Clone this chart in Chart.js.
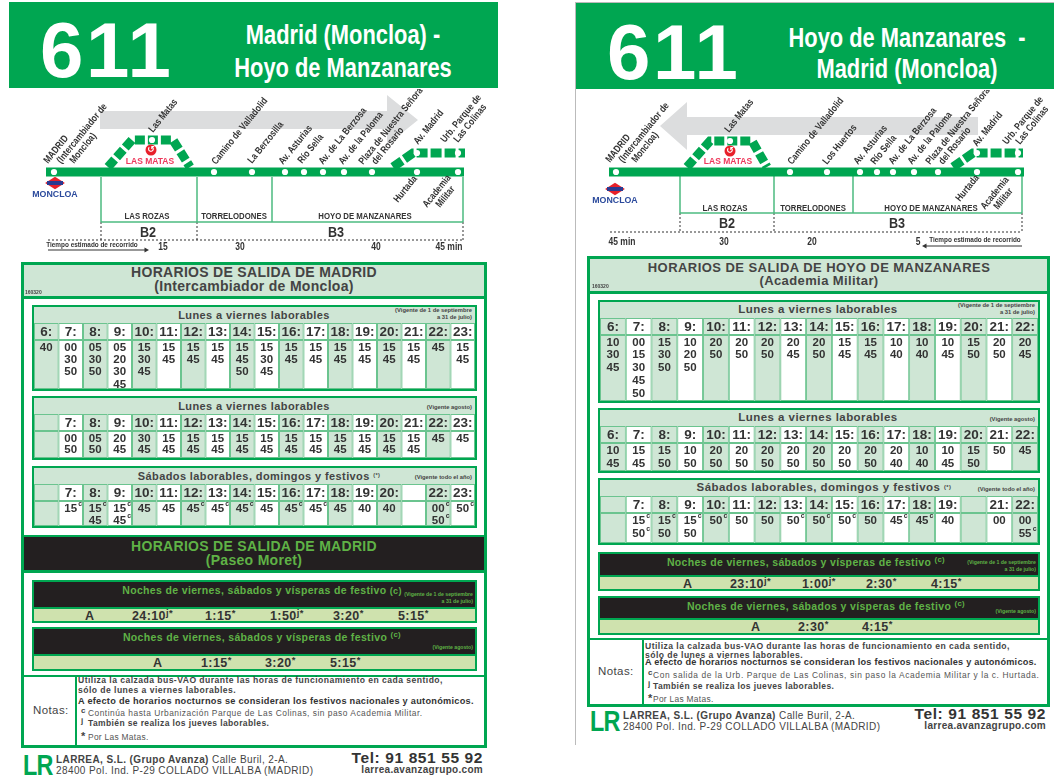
<!DOCTYPE html>
<html lang="es">
<head>
<meta charset="utf-8">
<title>611</title>
<script src="https://cdn.jsdelivr.net/npm/chart.js@4"></script>
<style>
    html, body { margin: 0; padding: 0; background: #fff; }
    body { position: relative; width: 1054px; height: 779px; overflow: hidden; font-family: "Liberation Sans", Arial, sans-serif; color: #333; }
    .box { position: absolute; box-sizing: border-box; }
    .txt { position: absolute; white-space: nowrap; line-height: 1; }
    canvas { position: absolute; display: block; }
    sup { font-size: 75%; line-height: 0; vertical-align: 0.45em; }
</style>
</head>
<body>
<script>
const GREEN = '#00A651';
const PALE = '#CFE6D5';
const LIME = '#CFE2AE';
const BLACK = '#231F20';
const TEXT_GREEN = '#5FB246';
const CELL_LINE = '#6BC48F';

// Timetable data, outbound (Madrid)
const hoursIda = ['6:', '7:', '8:', '9:', '10:', '11:', '12:', '13:', '14:', '15:', '16:', '17:', '18:', '19:', '20:', '21:', '22:', '23:'];
const minutesIdaCurso = [['40'], ['00', '30', '50'], ['05', '30', '50'], ['05', '20', '30', '45'], ['15', '30', '45'], ['15', '45'], ['15', '45'], ['15', '45'], ['15', '45', '50'], ['15', '30', '45'], ['15', '45'], ['15', '45'], ['15', '45'], ['15', '45'], ['15', '45'], ['15', '45'], ['45'], ['15', '45']];
const hoursIdaAgosto = ['', '7:', '8:', '9:', '10:', '11:', '12:', '13:', '14:', '15:', '16:', '17:', '18:', '19:', '20:', '21:', '22:', '23:'];
const minutesIdaAgosto = [[], ['00', '50'], ['05', '50'], ['20', '45'], ['30', '45'], ['15', '45'], ['15', '45'], ['15', '45'], ['15', '45'], ['15', '45'], ['15', '45'], ['15', '45'], ['15', '45'], ['15', '45'], ['15', '45'], ['15', '45'], ['45'], ['45']];
const hoursIdaFestivo = ['', '7:', '8:', '9:', '10:', '11:', '12:', '13:', '14:', '15:', '16:', '17:', '18:', '19:', '20:', '', '22:', '23:'];
const minutesIdaFestivo = [[], ['15c'], ['15c', '45'], ['15c', '45c'], ['45'], ['45'], ['45c'], ['45c'], ['45c'], ['45'], ['45c'], ['45c'], ['45'], ['40'], ['40'], [], ['00c', '50c'], ['50c']];
const nightIdaCurso = ['A', '24:10<sup>j*</sup>', '1:15<sup>*</sup>', '1:50<sup>j*</sup>', '3:20<sup>*</sup>', '5:15<sup>*</sup>'];
const nightIdaAgosto = ['A', '1:15<sup>*</sup>', '3:20<sup>*</sup>', '5:15<sup>*</sup>'];

// Timetable data, return (Hoyo de Manzanares)
const hoursVuelta = ['6:', '7:', '8:', '9:', '10:', '11:', '12:', '13:', '14:', '15:', '16:', '17:', '18:', '19:', '20:', '21:', '22:'];
const minutesVueltaCurso = [['10', '30', '45'], ['00', '15', '30', '45', '50'], ['15', '30', '50'], ['10', '20', '50'], ['20', '50'], ['20', '50'], ['20', '50'], ['20', '45'], ['20', '50'], ['15', '45'], ['15', '45'], ['10', '40'], ['10', '40'], ['10', '45'], ['15', '50'], ['20', '50'], ['20', '45']];
const minutesVueltaAgosto = [['10', '45'], ['15', '45'], ['15', '50'], ['10', '50'], ['20', '50'], ['20', '50'], ['20', '50'], ['20', '50'], ['20', '50'], ['20', '50'], ['20', '50'], ['20', '40'], ['10', '40'], ['10', '45'], ['15', '50'], ['50'], ['45']];
const hoursVueltaFestivo = ['', '7:', '8:', '9:', '10:', '11:', '12:', '13:', '14:', '15:', '16:', '17:', '18:', '19:', '', '21:', '22:'];
const minutesVueltaFestivo = [[], ['15c', '50c'], ['15c', '50'], ['15c', '50'], ['50c'], ['50'], ['50'], ['50c'], ['50c'], ['50c'], ['50'], ['45c'], ['45c'], ['40'], [], ['00'], ['00', '55c']];
const nightVueltaCurso = ['A', '23:10<sup>j*</sup>', '1:00<sup>j*</sup>', '2:30<sup>*</sup>', '4:15<sup>*</sup>'];
const nightVueltaAgosto = ['A', '2:30<sup>*</sup>', '4:15<sup>*</sup>'];

// Route diagrams in diagram units
const stopNamesIda = ['MADRID\n(Intercambiador de\nMoncloa)', 'Las Matas', 'Camino de Valladolid', 'La Berzosilla', 'Av. Asturias', 'Río Sella', 'Av. de La Berzosa', 'Av. de la Paloma', 'Plaza de Nuestra Señora\ndel Rosario', 'Av. Madrid', 'Urb. Parque de\nLas Colinas', 'Hurtada', 'Academia\nMilitar'];
const stopXIda = [54, 152, 214, 252, 285, 304, 323, 344, 372, 417, 458, 417, 458];
const stopYIda = [172, 140, 172, 172, 172, 172, 172, 172, 172, 153, 153, 172, 172];
const labelXIda = [48, 153, 216, 252, 283, 302, 323, 343, 363, 418, 445, 398, 427];
const labelYIda = [164, 133, 165, 164, 165, 164, 165, 165, 165, 145, 143, 203, 208];

const stopNamesVuelta = ['MADRID\n(Intercambiador de\nMoncloa)', 'Las Matas', 'Camino de Valladolid', 'Los Huertos', 'Av. Asturias', 'Río Sella', 'Av. de La Berzosa', 'Av. de la Paloma', 'Plaza de Nuestra Señora\ndel Rosario', 'Av. Madrid', 'Urb. Parque de\nLas Colinas', 'Hurtada', 'Academia\nMilitar'];
const stopXVuelta = [616, 730, 790, 827, 860, 877, 893, 914, 938, 977, 1018, 977, 1018];
const stopYVuelta = [172, 141, 172, 172, 172, 172, 172, 172, 172, 153, 153, 172, 172];
const labelXVuelta = [610, 729, 792, 827, 858, 875, 893, 912, 930, 977, 1007, 960, 985];
const labelYVuelta = [163, 133, 165, 165, 165, 165, 165, 165, 165, 147, 145, 202, 210];

const zoneNames = ['LAS ROZAS', 'TORRELODONES', 'HOYO DE MANZANARES'];
const fareNames = ['B2', 'B3'];
const timeLabelsIda = ['15', '30', '40', '45 min'];
const timeLabelsVuelta = ['45 min', '30', '20', '5'];

function addText(x, y, html, css, align, stretch) {
    const el = document.createElement('div');
    const scale = stretch ? ` scaleX(${stretch})` : '';
    el.className = 'txt';
    el.innerHTML = html;
    el.style.cssText = css || '';
    el.style.top = y + 'px';
    if (align === 'r') {
        el.style.right = (1054 - x) + 'px';
        el.style.transform = 'translateY(-50%)' + scale;
        el.style.transformOrigin = 'right center';
    } else if (align === 'c') {
        el.style.left = x + 'px';
        el.style.transform = 'translate(-50%, -50%)' + scale;
    } else {
        el.style.left = x + 'px';
        el.style.transform = 'translateY(-50%)' + scale;
        el.style.transformOrigin = 'left center';
    }
    document.body.appendChild(el);
}

function addBox(x, y, w, h, css) {
    const el = document.createElement('div');
    el.className = 'box';
    el.style.cssText = `left:${x}px;top:${y}px;width:${w}px;height:${h}px;${css}`;
    document.body.appendChild(el);
}

function addCanvas(x, y, w, h) {
    const canvas = document.createElement('canvas');
    canvas.width = w;
    canvas.height = h;
    canvas.style.left = x + 'px';
    canvas.style.top = y + 'px';
    canvas.style.width = w + 'px';
    canvas.style.height = h + 'px';
    document.body.appendChild(canvas);
    return canvas.getContext('2d');
}

// Writes hours and minutes on the bars, so the text follows the chart's own scale
const cellTextPlugin = {
    id: 'cellText',
    afterDatasetsDraw(chart, args, opts) {
        const ctx = chart.ctx;
        ctx.save();
        ctx.fillStyle = '#333';
        ctx.textAlign = 'center';
        ctx.textBaseline = 'middle';

        chart.getDatasetMeta(1).data.forEach((bar, i) => {
            ctx.font = 'bold 13.5px "Liberation Sans"';
            ctx.fillText(opts.hours[i], bar.x, (bar.y + bar.base) / 2 + 0.5);
        });

        chart.getDatasetMeta(0).data.forEach((bar, i) => {
            opts.minutes[i].forEach((value, row) => {
                const y = bar.y + 7.5 + row * opts.pitch;
                const plain = value.replace('c', '');
                ctx.font = 'bold 11.5px "Liberation Sans"';
                ctx.fillText(plain, bar.x, y);
                if (value.endsWith('c')) {
                    ctx.font = 'bold 7px "Liberation Sans"';
                    ctx.fillText('c', bar.x + 9.5, y - 4);
                }
            });
        });
        ctx.restore();
    },
};

function drawTimetable(x, y, w, h, hours, minutes, pitch) {
    const rows = Math.max(...minutes.map((m) => m.length));
    const headRows = rows * 17 / (h - 17);
    const cellColors = hours.map((hour, i) => (i % 2 === 0 ? PALE : '#fff'));
    const common = {
        backgroundColor: cellColors,
        borderColor: CELL_LINE,
        borderWidth: 1,
        borderSkipped: false,
        inflateAmount: 0,
        barPercentage: 1,
        categoryPercentage: 1,
    };

    new Chart(addCanvas(x, y, w, h), {
        type: 'bar',
        data: {
            labels: hours,
            datasets: [
                { ...common, data: hours.map(() => rows) },
                { ...common, data: hours.map(() => headRows) },
            ],
        },
        options: {
            animation: false,
            responsive: false,
            events: [],
            layout: { padding: 0, autoPadding: false },
            scales: {
                x: { display: false, stacked: true },
                y: { display: false, stacked: true, min: 0, max: rows + headRows },
            },
            plugins: {
                legend: { display: false },
                tooltip: { enabled: false },
                cellText: { hours, minutes, pitch },
            },
        },
        plugins: [cellTextPlugin],
    });
}

function tablePanel(x, y, w, h, title, note, titleX, titleCss, hours, minutes, pitch) {
    addBox(x, y, w, h, `border:2px solid ${GREEN};background:${PALE};`);
    addText(titleX, y + 9.5, title, titleCss, 'c');
    note.forEach((line, i) => {
        const top = note.length === 1 ? y + 12 : y + 6 + i * 6.5;
        addText(x + w - 5, top, line, 'font-weight:bold;font-size:5.8px;color:#444;', 'r');
    });
    drawTimetable(x + 2, y + 18, w - 4, h - 20, hours, minutes, pitch);
}

function nightPanel(x, y, w, h, split, title, titleX, note, labelsX, values) {
    addBox(x, y, w, h, `border:2px solid ${GREEN};background:${BLACK};`);
    addBox(x + 2, y + split, w - 4, h - split - 2, `background:${LIME};border-top:2px solid ${GREEN};`);
    addText(titleX, y + 10, title, `font-weight:bold;font-size:10.5px;letter-spacing:0.35px;color:${TEXT_GREEN};`, 'c');
    note.forEach((line, i) => {
        const top = note.length === 1 ? y + split - 6 : y + split - 12 + i * 6.5;
        addText(x + w - 4, top, line, `font-weight:bold;font-size:5.2px;color:${TEXT_GREEN};`, 'r');
    });
    values.forEach((value, i) => {
        addText(labelsX[i], y + split + 9, value, 'font-weight:bold;font-size:12.5px;letter-spacing:0.4px;color:#333;');
    });
}

// Rotated names, zone names and other labels of the route diagram
const routeTextPlugin = {
    id: 'routeText',
    beforeDatasetsDraw(chart, args, opts) {
        const ctx = chart.ctx;
        const sx = chart.scales.x;
        const sy = chart.scales.y;
        ctx.save();
        ctx.fillStyle = '#DCDDDE';
        ctx.beginPath();
        opts.arrowX.forEach((v, i) => {
            ctx.lineTo(sx.getPixelForValue(v), sy.getPixelForValue(opts.arrowY[i]));
        });
        ctx.closePath();
        ctx.fill();
        ctx.restore();
    },
    afterDatasetsDraw(chart, args, opts) {
        const ctx = chart.ctx;
        const sx = chart.scales.x;
        const sy = chart.scales.y;
        ctx.save();

        opts.names.forEach((name, i) => {
            name.split('\n').forEach((line, row) => {
                ctx.save();
                ctx.translate(sx.getPixelForValue(opts.labelX[i] + row * 13), sy.getPixelForValue(opts.labelY[i]));
                ctx.rotate(-51 * Math.PI / 180);
                ctx.scale(0.82, 1);
                ctx.fillStyle = '#333';
                ctx.textAlign = 'left';
                ctx.textBaseline = 'alphabetic';
                ctx.font = 'bold 10px "Liberation Sans"';
                ctx.fillText(line, 0, 0);
                ctx.restore();
            });
        });

        ctx.textAlign = 'center';
        ctx.textBaseline = 'middle';
        opts.labels.forEach((item) => {
            ctx.save();
            ctx.translate(sx.getPixelForValue(item.x), sy.getPixelForValue(item.y));
            ctx.scale(item.narrow || 1, 1);
            ctx.fillStyle = item.color || '#333';
            ctx.font = item.font;
            ctx.fillText(item.text, 0, 0);
            ctx.restore();
        });
        ctx.restore();
    },
};

function routeLine(xs, ys, extra) {
    return {
        data: xs.map((v, i) => ({ x: v, y: ys[i] })),
        showLine: true,
        pointRadius: 0,
        borderColor: GREEN,
        borderWidth: 9,
        borderCapStyle: 'butt',
        borderJoinStyle: 'miter',
        tension: 0,
        clip: false,
        ...extra,
    };
}

function drawRoute(left, top, w, h, cfg) {
    const thin = { borderColor: '#4CBB80', borderWidth: 1.5 };
    const dotted = { borderColor: '#333', borderWidth: 1, borderDash: [2, 2] };
    const datasets = [
        routeLine(cfg.loopX, cfg.loopY, { borderDash: [10, 3] }),
        routeLine(cfg.branchX, cfg.branchY, { borderDash: [11, 3] }),
        routeLine(cfg.lineX, cfg.lineY),
    ];
    cfg.zoneX.forEach((v) => datasets.push(routeLine([v, v], cfg.zoneY, thin)));
    datasets.push(routeLine([cfg.zoneX[0], cfg.zoneX[3]], [cfg.zoneY[1], cfg.zoneY[1]], thin));
    cfg.dotX.forEach((v) => datasets.push(routeLine([v, v], cfg.dotY, dotted)));
    datasets.push(routeLine(cfg.dotLineX, [cfg.dotY[1], cfg.dotY[1]], dotted));
    datasets.push(routeLine(cfg.timeArrowX, cfg.timeArrowY, {
        borderColor: '#333',
        borderWidth: 1.2,
        pointStyle: 'triangle',
        pointRadius: cfg.timeArrowRadius,
        pointRotation: cfg.timeArrowRotation,
        pointBackgroundColor: '#333',
        pointBorderWidth: 0,
    }));
    datasets.push({
        order: -1,
        data: cfg.stopX.map((v, i) => ({ x: v, y: cfg.stopY[i] })),
        pointRadius: 3.1,
        pointBackgroundColor: '#fff',
        pointBorderWidth: 0,
        clip: false,
    });
    datasets.push({
        order: -2,
        data: [{ x: cfg.matasX, y: cfg.matasY }],
        pointRadius: 5.5,
        pointBackgroundColor: '#E8202A',
        pointBorderWidth: 0,
        clip: false,
    });

    new Chart(addCanvas(left, top, w, h), {
        type: 'scatter',
        data: { datasets },
        options: {
            animation: false,
            responsive: false,
            events: [],
            layout: { padding: 0, autoPadding: false },
            scales: {
                x: { display: false, min: left, max: left + w },
                y: { display: false, reverse: true, min: top, max: top + h },
            },
            plugins: {
                legend: { display: false },
                tooltip: { enabled: false },
                routeText: {
                    names: cfg.names,
                    labelX: cfg.labelX,
                    labelY: cfg.labelY,
                    arrowX: cfg.arrowX,
                    arrowY: cfg.arrowY,
                    labels: cfg.labels,
                },
            },
        },
        plugins: [routeTextPlugin],
    });
}

function metroLogo(x, y) {
    addBox(x - 7, y - 7, 14, 14, 'background:#E8202A;transform:scale(1.0,0.62) rotate(45deg);');
    addBox(x - 8, y - 2, 16, 4, 'background:#2B3990;');
    addText(x, y + 11, 'MONCLOA', 'font-weight:bold;font-size:8.8px;color:#2B4A9C;', 'c');
}

function notes(x, xText, lines, ys, sizes) {
    addText(x, ys[0], lines[0], `font-weight:bold;font-size:8.6px;letter-spacing:0.45px;color:#444;`);
    addText(x, ys[1], lines[1], `font-weight:bold;font-size:8.6px;letter-spacing:0.45px;color:#444;`);
    addText(x, ys[2], lines[2], `font-weight:bold;font-size:9.2px;letter-spacing:${sizes[0]}px;color:#333;`);
    addText(x + 3, ys[3] - 2, 'c', 'font-weight:bold;font-size:8px;color:#444;');
    addText(xText, ys[3], lines[3], `font-size:8.4px;letter-spacing:${sizes[1]}px;color:#555;`);
    addText(x + 3, ys[4] - 2, 'j', 'font-weight:bold;font-size:8px;color:#444;');
    addText(xText, ys[4], lines[4], 'font-weight:bold;font-size:8.5px;letter-spacing:0.38px;color:#444;');
    addText(x + 3, ys[5] - 1, '*', 'font-weight:bold;font-size:11px;color:#444;');
    addText(xText, ys[5], lines[5], 'font-size:8.4px;letter-spacing:0.3px;color:#555;');
}

function footer(x, telRight, yTop) {
    addText(x - 33, yTop + 5, 'LR', `font-weight:bold;font-size:30px;letter-spacing:-1px;color:${GREEN};`, 'l', 0.78);
    addText(x, yTop, '<b>LARREA, S.L. (Grupo Avanza)</b> Calle Buril, 2-A.', 'font-size:10px;letter-spacing:0.4px;color:#444;');
    addText(x, yTop + 11, '28400 Pol. Ind. P-29 COLLADO VILLALBA (MADRID)', 'font-size:10px;letter-spacing:0.4px;color:#444;');
    addText(telRight, yTop - 2, 'Tel: 91 851 55 92', 'font-weight:bold;font-size:15.5px;letter-spacing:0.6px;color:#333;', 'r');
    addText(telRight, yTop + 10, 'larrea.avanzagrupo.com', 'font-weight:bold;font-size:10px;letter-spacing:0.3px;color:#444;', 'r');
}

const headTitleCss = 'font-weight:bold;font-size:27px;color:#fff;';
const numberCss = 'font-weight:bold;font-size:78px;letter-spacing:2.5px;color:#fff;';
const tableTitleCss = 'font-weight:bold;font-size:14px;letter-spacing:0.3px;color:#444;';
const blackTitleCss = `font-weight:bold;font-size:14px;letter-spacing:0.3px;color:${TEXT_GREEN};`;
const panelTitleLeft = 'font-weight:bold;font-size:11px;letter-spacing:0.4px;color:#444;';
const panelTitleRight = 'font-weight:bold;font-size:11.5px;letter-spacing:0.45px;color:#444;';

const diagramNarrow = 'bold 9.5px "Liberation Sans"';
const diagramTime = 'bold 10px "Liberation Sans"';

// ---------- Left sheet ----------
addBox(9, 2, 489, 86, `background:${GREEN};`);
addText(40, 50, '611', numberCss);
addText(343, 35, 'Madrid (Moncloa) -', headTitleCss, 'c', 0.81);
addText(343, 68, 'Hoyo de Manzanares', headTitleCss, 'c', 0.81);

drawRoute(10, 89, 488, 172, {
    names: stopNamesIda,
    stopX: stopXIda,
    stopY: stopYIda,
    labelX: labelXIda,
    labelY: labelYIda,
    lineX: [46, 464],
    lineY: [172, 172],
    loopX: [108, 132, 173, 190],
    loopY: [167, 140, 140, 167],
    branchX: [393, 413, 465],
    branchY: [167, 153, 153],
    arrowX: [100, 387, 387, 418, 387, 387, 100],
    arrowY: [111, 111, 95, 120, 145, 129, 129],
    zoneX: [101, 197, 272, 463],
    zoneY: [177, 222],
    dotX: [101, 197, 463],
    dotY: [222, 240],
    dotLineX: [48, 463],
    timeArrowX: [48, 146],
    timeArrowY: [250, 250],
    timeArrowRadius: [0, 3],
    timeArrowRotation: 90,
    matasX: 151,
    matasY: 150,
    labels: [
        { text: '↺', x: 151, y: 150, font: 'bold 9px "DejaVu Sans"', color: '#fff' },
        { text: 'LAS MATAS', x: 150, y: 162, font: 'bold 8.5px "Liberation Sans"', color: '#EE3A5C' },
        { text: zoneNames[0], x: 147, y: 216, font: diagramNarrow, narrow: 0.82 },
        { text: zoneNames[1], x: 234, y: 216, font: diagramNarrow, narrow: 0.82 },
        { text: zoneNames[2], x: 365, y: 216, font: diagramNarrow, narrow: 0.82 },
        { text: fareNames[0], x: 148, y: 233, font: 'bold 14px "Liberation Sans"', narrow: 0.9 },
        { text: fareNames[1], x: 336, y: 233, font: 'bold 14px "Liberation Sans"', narrow: 0.9 },
        { text: timeLabelsIda[0], x: 163, y: 247, font: diagramTime, narrow: 0.85 },
        { text: timeLabelsIda[1], x: 240, y: 247, font: diagramTime, narrow: 0.85 },
        { text: timeLabelsIda[2], x: 376, y: 247, font: diagramTime, narrow: 0.85 },
        { text: timeLabelsIda[3], x: 449, y: 247, font: diagramTime, narrow: 0.85 },
        { text: 'Tiempo estimado de recorrido', x: 92, y: 245, font: 'bold 6.4px "Liberation Sans"' },
    ],
});
metroLogo(55, 183);

addBox(21, 262, 466, 486, `border:3px solid ${GREEN};`);
addBox(24, 265, 460, 34, `background:${PALE};border-bottom:3px solid ${GREEN};`);
addText(254, 272, 'HORARIOS DE SALIDA DE MADRID', tableTitleCss, 'c');
addText(254, 286, '(Intercambiador de Moncloa)', tableTitleCss, 'c');
addText(25, 292, '160320', 'font-weight:bold;font-size:5px;color:#444;');

tablePanel(32, 305, 445, 86, 'Lunes a viernes laborables', ['(Vigente de 1 de septiembre', 'a 31 de julio)'], 254, panelTitleLeft, hoursIda, minutesIdaCurso, 12.3);
tablePanel(32, 396, 445, 64, 'Lunes a viernes laborables', ['(Vigente agosto)'], 254, panelTitleLeft, hoursIdaAgosto, minutesIdaAgosto, 11.7);
tablePanel(32, 466, 445, 62, 'Sábados laborables, domingos y festivos <sup style="font-size:50%">(*)</sup>', ['(Vigente todo el año)'], 259, panelTitleLeft, hoursIdaFestivo, minutesIdaFestivo, 12);

addBox(24, 535, 460, 38, `background:${BLACK};border-top:2px solid ${GREEN};border-bottom:3px solid ${GREEN};`);
addText(254, 546, 'HORARIOS DE SALIDA DE MADRID', blackTitleCss, 'c');
addText(254, 560, '(Paseo Moret)', blackTitleCss, 'c');

nightPanel(32, 580, 445, 43, 27, 'Noches de viernes, sábados y vísperas de festivo <span style="font-size:9px">(c)</span>', 262, ['(Vigente de 1 de septiembre', 'a 31 de julio)'], [85, 132, 205, 270, 333, 398], nightIdaCurso);
nightPanel(32, 627, 445, 44, 27, 'Noches de viernes, sábados y vísperas de festivo <sup>(c)</sup>', 262, ['(Vigente agosto)'], [153, 201, 265, 330], nightIdaAgosto);

addBox(24, 675, 460, 2, `background:${GREEN};`);
addBox(75, 676, 2, 70, `background:${GREEN};`);
addText(33, 711, 'Notas:', 'font-size:11.5px;letter-spacing:0.4px;color:#444;');
notes(78, 88, [
    'Utiliza la calzada bus-VAO durante las horas de funcionamiento en cada sentido,',
    'sólo de lunes a viernes laborables.',
    'A efecto de horarios nocturnos se consideran los festivos nacionales y autonómicos.',
    'Continúa hasta Urbanización Parque de Las Colinas, sin paso Academia Militar.',
    'También se realiza los jueves laborables.',
    'Por Las Matas.',
], [680, 690, 702, 713, 723, 737], [0.27, 0.5]);

footer(56, 483, 760);

// ---------- Right sheet ----------
addBox(575, 2, 479, 743, 'border-left:1px solid #bbb;border-top:1px solid #bbb;');
addBox(576, 3, 478, 86, `background:${GREEN};`);
addText(607, 52, '611', numberCss);
addText(907, 38, 'Hoyo de Manzanares&nbsp; -', headTitleCss, 'c', 0.81);
addText(907, 69, 'Madrid (Moncloa)', headTitleCss, 'c', 0.81);

drawRoute(576, 90, 478, 166, {
    names: stopNamesVuelta,
    stopX: stopXVuelta,
    stopY: stopYVuelta,
    labelX: labelXVuelta,
    labelY: labelYVuelta,
    lineX: [609, 1024],
    lineY: [172, 172],
    loopX: [687, 710, 752, 767],
    loopY: [167, 141, 141, 167],
    branchX: [953, 973, 1023],
    branchY: [167, 153, 153],
    arrowX: [978, 687, 687, 660, 687, 687, 978],
    arrowY: [117, 117, 102, 126, 150, 135, 135],
    zoneX: [680, 774, 853, 1022],
    zoneY: [175, 213],
    dotX: [680, 774, 1022],
    dotY: [213, 232],
    dotLineX: [610, 1022],
    timeArrowX: [925, 1022],
    timeArrowY: [246, 246],
    timeArrowRadius: [3, 0],
    timeArrowRotation: -90,
    matasX: 730,
    matasY: 151,
    labels: [
        { text: '↺', x: 730, y: 151, font: 'bold 9px "DejaVu Sans"', color: '#fff' },
        { text: 'LAS MATAS', x: 728, y: 162, font: 'bold 8.5px "Liberation Sans"', color: '#EE3A5C' },
        { text: zoneNames[0], x: 725, y: 208, font: diagramNarrow, narrow: 0.82 },
        { text: zoneNames[1], x: 813, y: 208, font: diagramNarrow, narrow: 0.82 },
        { text: zoneNames[2], x: 931, y: 208, font: diagramNarrow, narrow: 0.82 },
        { text: fareNames[0], x: 727, y: 224, font: 'bold 14px "Liberation Sans"', narrow: 0.9 },
        { text: fareNames[1], x: 897, y: 224, font: 'bold 14px "Liberation Sans"', narrow: 0.9 },
        { text: timeLabelsVuelta[0], x: 622, y: 242, font: diagramTime, narrow: 0.85 },
        { text: timeLabelsVuelta[1], x: 724, y: 242, font: diagramTime, narrow: 0.85 },
        { text: timeLabelsVuelta[2], x: 812, y: 242, font: diagramTime, narrow: 0.85 },
        { text: timeLabelsVuelta[3], x: 918, y: 242, font: diagramTime, narrow: 0.85 },
        { text: 'Tiempo estimado de recorrido', x: 975, y: 240, font: 'bold 6.4px "Liberation Sans"' },
    ],
});
metroLogo(615, 189);

addBox(587, 256, 463, 451, `border:3px solid ${GREEN};`);
addBox(590, 259, 457, 35, `background:${PALE};border-bottom:3px solid ${GREEN};`);
addText(819, 267, 'HORARIOS DE SALIDA DE HOYO DE MANZANARES', 'font-weight:bold;font-size:13px;letter-spacing:0.45px;color:#444;', 'c');
addText(819, 280, '(Academia Militar)', 'font-weight:bold;font-size:13px;letter-spacing:0.4px;color:#444;', 'c');
addText(592, 286, '160320', 'font-weight:bold;font-size:5px;color:#444;');

tablePanel(598, 300, 442, 103, 'Lunes a viernes laborables', ['(Vigente de 1 de septiembre', 'a 31 de julio)'], 818, panelTitleRight, hoursVuelta, minutesVueltaCurso, 12.8);
tablePanel(598, 408, 442, 65, 'Lunes a viernes laborables', ['(Vigente agosto)'], 818, panelTitleRight, hoursVuelta, minutesVueltaAgosto, 13);
tablePanel(598, 478, 442, 67, 'Sábados laborables, domingos y festivos <sup style="font-size:50%">(*)</sup>', ['(Vigente todo el año)'], 824, panelTitleRight, hoursVueltaFestivo, minutesVueltaFestivo, 13);

nightPanel(598, 552, 442, 39, 23, 'Noches de viernes, sábados y vísperas de festivo <sup>(c)</sup>', 806, ['(Vigente de 1 de septiembre', 'a 31 de julio)'], [683, 730, 802, 866, 931], nightVueltaCurso);
nightPanel(598, 596, 442, 39, 22, 'Noches de viernes, sábados y vísperas de festivo <sup>(c)</sup>', 826, ['(Vigente agosto)'], [751, 798, 862], nightVueltaAgosto);

addBox(590, 638, 457, 2, `background:${GREEN};`);
addBox(642, 639, 2, 65, `background:${GREEN};`);
addText(598, 672, 'Notas:', 'font-size:11.5px;letter-spacing:0.4px;color:#444;');
notes(645, 653, [
    'Utiliza la calzada bus-VAO durante las horas de funcionamiento en cada sentido,',
    'sólo de lunes a viernes laborables.',
    'A efecto de horarios nocturnos se consideran los festivos nacionales y autonómicos.',
    'Con salida de la Urb. Parque de Las Colinas, sin paso la Academia Militar y la c. Hurtada.',
    'También se realiza los jueves laborables.',
    'Por Las Matas.',
], [646, 655, 663, 675, 686, 699], [0.22, 0.6]);

footer(623, 1046, 716);
</script>
</body>
</html>
